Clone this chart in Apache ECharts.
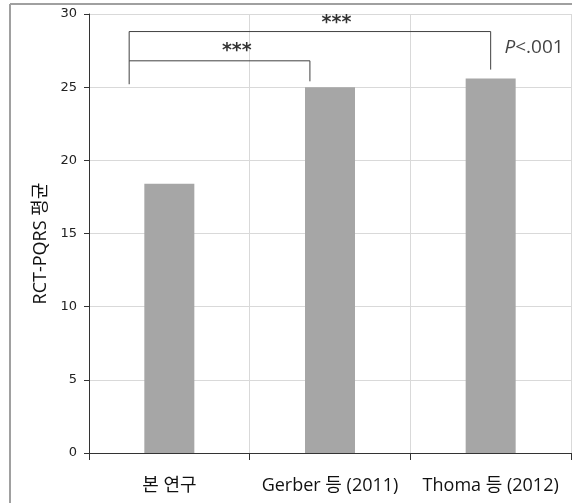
<!DOCTYPE html>
<html><head><meta charset="utf-8">
<script src="https://cdn.jsdelivr.net/npm/echarts@6/dist/echarts.min.js"></script>
<style>html,body{margin:0;padding:0;background:#fff}#c{width:572px;height:503px}</style>
</head><body><div id="c"></div>
<script>
const categories = ['본 연구', 'Gerber 등 (2011)', 'Thoma 등 (2012)'];
const values = [18.4, 25.0, 25.6];
const yTicks = [0, 5, 10, 15, 20, 25, 30];
const yAxisName = 'RCT-PQRS 평균';
// bracket paths in (category position, value)
const bracketInner = [[-0.25, 25.2], [-0.25, 26.8], [0.875, 26.8], [0.875, 25.4]];
const bracketOuter = [[-0.25, 26.8], [-0.25, 28.8], [2.0, 28.8], [2.0, 26.2]];
const stars = [
  {pos: [0.42, 27.75], text: '***'},
  {pos: [1.04, 29.65], text: '***'}
];
const pNote = {pos: [2.27, 27.7], text: '{i|P}<.001'};
const font = '"Open Sans", "Noto Sans CJK KR", sans-serif';
const chart = echarts.init(document.getElementById('c'), null, {renderer: 'canvas'});
chart.setOption({
  animation: false,
  backgroundColor: '#fff',
  grid: {left: 89, right: 1, top: 14, bottom: 50},
  xAxis: [{
    type: 'category', data: categories,
    axisLine: {lineStyle: {color: '#333', width: 1}},
    axisTick: {show: true, length: 7, lineStyle: {color: '#333'}},
    axisLabel: {color: '#111', fontSize: 18, margin: 24, fontFamily: font, interval: 0},
    splitLine: {show: true, lineStyle: {color: '#d9d9d9'}}
  }, {
    type: 'value', min: -0.5, max: 2.5, show: false
  }],
  yAxis: {
    type: 'value', min: yTicks[0], max: yTicks[yTicks.length - 1], interval: 5,
    name: yAxisName, nameLocation: 'middle', nameGap: 35,
    nameTextStyle: {fontSize: 18, color: '#111', fontFamily: font, padding: [0, 20, 0, 0]},
    axisLine: {show: true, onZero: false, lineStyle: {color: '#333'}},
    axisTick: {show: true, length: 5, lineStyle: {color: '#333'}},
    axisLabel: {color: '#222', fontSize: 13, margin: 12, fontFamily: '"DejaVu Sans", sans-serif'},
    splitLine: {show: true, lineStyle: {color: '#d9d9d9'}}
  },
  series: [{
    type: 'bar', data: values, barWidth: 50,
    itemStyle: {color: '#a6a6a6'}
  }, {
    type: 'line', xAxisIndex: 1, data: bracketInner, symbol: 'none',
    lineStyle: {color: '#404040', width: 1}
  }, {
    type: 'line', xAxisIndex: 1, data: bracketOuter, symbol: 'none',
    lineStyle: {color: '#404040', width: 1}
  }, {
    type: 'scatter', xAxisIndex: 1, symbolSize: 1,
    itemStyle: {color: 'rgba(0,0,0,0)'},
    data: stars.map(a => ({value: a.pos, label: {formatter: a.text}})),
    label: {
      show: true, position: 'inside', color: '#000', fontSize: 19, fontWeight: 'bold',
      fontFamily: '"DejaVu Sans", sans-serif', offset: [0, 4]
    }
  }, {
    type: 'scatter', xAxisIndex: 1, symbolSize: 1,
    itemStyle: {color: 'rgba(0,0,0,0)'},
    data: [{value: pNote.pos, label: {formatter: pNote.text}}],
    label: {
      show: true, position: 'inside', color: '#111', fontSize: 19, fontFamily: font,
      rich: {i: {fontStyle: 'italic', fontSize: 19, color: '#111', fontFamily: font}}
    }
  }],
  graphic: [
    {type: 'line', shape: {x1: 10, y1: 4, x2: 572, y2: 4}, style: {stroke: '#a0a0a0', lineWidth: 2}},
    {type: 'line', shape: {x1: 10, y1: 4, x2: 10, y2: 503}, style: {stroke: '#a0a0a0', lineWidth: 2}}
  ]
});
</script></body></html>
